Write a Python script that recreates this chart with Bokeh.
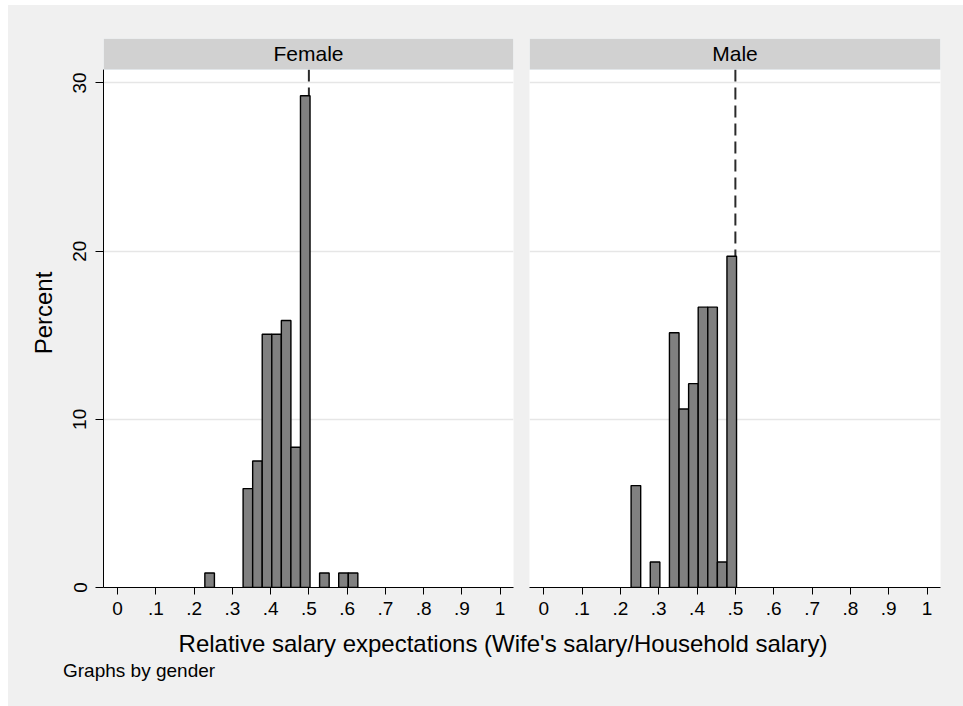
from bokeh.plotting import figure
from bokeh.models import Range1d, FixedTicker, BoxAnnotation, Label
from bokeh.layouts import row, column
from bokeh.embed import file_html
from bokeh.resources import INLINE

# ---- data -------------------------------------------------------------
# histogram bin edges (shared by both panels) and percent in each bin
bin_edges = [0.228, 0.253, 0.278, 0.303, 0.328, 0.353, 0.378, 0.403, 0.428,
             0.453, 0.478, 0.503, 0.528, 0.553, 0.578, 0.603, 0.628]
female_pct = [0.86, 0, 0, 0, 5.88, 7.52, 15.06, 15.06, 15.88, 8.34, 29.24,
              0, 0.86, 0, 0.86, 0.86]
male_pct = [6.06, 0, 1.52, 0, 15.15, 10.61, 12.12, 16.67, 16.67, 1.52, 19.70,
            0, 0, 0, 0, 0]
panel_names = ["Female", "Male"]
reference_x = 0.5

x_ticks = [0, 0.1, 0.2, 0.3, 0.4, 0.5, 0.6, 0.7, 0.8, 0.9, 1]
x_tick_labels = ["0", ".1", ".2", ".3", ".4", ".5", ".6", ".7", ".8", ".9", "1"]
y_ticks = [0, 10, 20, 30]
grid_ticks = [10, 20, 30]

x_title = "Relative salary expectations (Wife's salary/Household salary)"
y_title = "Percent"
note = "Graphs by gender"

# ---- styling ----------------------------------------------------------
FONT = "Liberation Sans"
BG = "#f0f0f0"
HEADER_FILL = "#d1d1d1"
HEADER_LINE = "#d3e2ea"
BAR_FILL = "#808080"
GRID = "#e6e6e6"

X_RANGE = (-0.037, 1.035)
Y_TOP = 30.8            # top of the plotting region in percent
PLOT_H = 518            # px of plotting region
HEADER_H = 31           # px of the panel strip above it
FRAME_H = PLOT_H + HEADER_H
Y_END = Y_TOP * FRAME_H / PLOT_H


def make_panel(name, pct, show_y, frame_w, border_l, border_r):
    p = figure(frame_width=frame_w, frame_height=FRAME_H,
               x_range=Range1d(*X_RANGE), y_range=Range1d(0, Y_END),
               output_backend="svg", toolbar_location=None,
               min_border_left=border_l, min_border_right=border_r,
               min_border_top=33, min_border_bottom=38,
               y_axis_location="left" if show_y else None,
               background_fill_color="white", border_fill_color=BG,
               outline_line_color=None)

    # dashed reference line, behind the bars
    p.segment(x0=[reference_x], y0=[Y_TOP], x1=[reference_x], y1=[0],
              line_color="#2a2a2a", line_width=2, line_dash="12 6")

    lefts, rights, tops = [], [], []
    for i, v in enumerate(pct):
        if v > 0:
            lefts.append(bin_edges[i])
            rights.append(bin_edges[i + 1])
            tops.append(v)
    p.quad(left=lefts, right=rights, bottom=0, top=tops,
           fill_color=BAR_FILL, line_color="black", line_width=1.4)

    # x axis
    xa = p.xaxis[0]
    xa.ticker = FixedTicker(ticks=x_ticks)
    xa.major_label_overrides = dict(zip(x_ticks, x_tick_labels))
    xa.minor_tick_line_color = None
    xa.major_tick_in = 0
    xa.major_tick_out = 7
    xa.major_tick_line_color = "black"
    xa.axis_line_color = "black"
    xa.major_label_text_font = FONT
    xa.major_label_text_font_size = "19px"
    xa.major_label_text_color = "black"
    xa.major_label_standoff = 7
    p.xgrid.visible = False

    if show_y:
        ya = p.yaxis[0]
        ya.ticker = FixedTicker(ticks=y_ticks)
        ya.bounds = (0, Y_TOP)
        ya.minor_tick_line_color = None
        ya.major_tick_in = 0
        ya.major_tick_out = 8
        ya.major_tick_line_color = "black"
        ya.axis_line_color = "black"
        ya.major_label_orientation = "vertical"
        ya.major_label_text_font = FONT
        ya.major_label_text_font_size = "19px"
        ya.major_label_text_color = "black"
        ya.major_label_standoff = 9
        ya.axis_label = y_title
        ya.axis_label_text_font = FONT
        ya.axis_label_text_font_size = "24px"
        ya.axis_label_text_font_style = "normal"
        ya.axis_label_text_color = "black"
        ya.axis_label_standoff = 14

    # horizontal grid lines
    for g in p.ygrid:
        g.ticker = FixedTicker(ticks=grid_ticks)
        g.grid_line_color = GRID
        g.grid_line_width = 1.5

    # panel header strip
    p.add_layout(BoxAnnotation(left=X_RANGE[0], right=X_RANGE[1],
                               bottom=Y_TOP, top=Y_END,
                               fill_color=HEADER_FILL, fill_alpha=1,
                               line_color=HEADER_LINE, line_width=1))
    p.add_layout(Label(x=(X_RANGE[0] + X_RANGE[1]) / 2, y=(Y_TOP + Y_END) / 2,
                       text=name, text_align="center", text_baseline="middle",
                       text_font=FONT, text_font_size="21px",
                       text_color="black", y_offset=1))
    return p


female = make_panel(panel_names[0], female_pct, True, 410, 95, 8)
male = make_panel(panel_names[1], male_pct, False, 411, 8, 23)

# strip below the panels: overall x title and note (page pixel coordinates)
foot = figure(width=955, height=81, x_range=Range1d(8, 963),
              y_range=Range1d(706, 625), min_border=0,
              output_backend="svg", toolbar_location=None,
              x_axis_location=None, y_axis_location=None,
              background_fill_color=BG, border_fill_color=BG,
              outline_line_color=None)
foot.xgrid.visible = False
foot.ygrid.visible = False
foot.add_layout(Label(x=502.5, y=643, text=x_title, text_align="center",
                      text_baseline="middle", text_font=FONT,
                      text_font_size="24px", text_color="black"))
foot.add_layout(Label(x=62.5, y=670, text=note, text_align="left",
                      text_baseline="middle", text_font=FONT,
                      text_font_size="19px", text_color="black"))

panels = row(female, male, spacing=0, styles={"background-color": BG})
layout = column(panels, foot, spacing=0, margin=(5, 0, 0, 8),
                styles={"background-color": BG})

open("out.html", "w").write(file_html(layout, INLINE))
